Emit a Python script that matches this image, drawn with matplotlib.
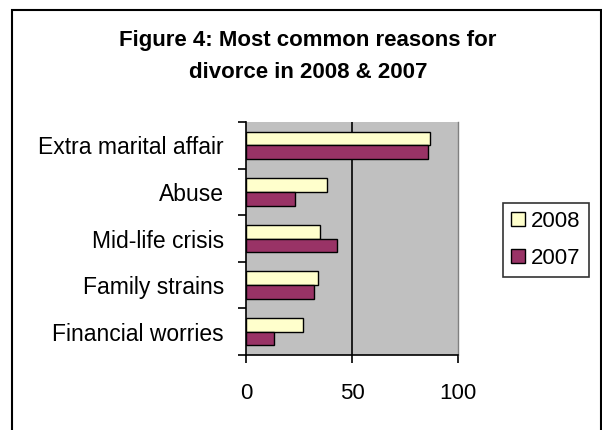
import matplotlib
matplotlib.use("Agg")
import matplotlib.pyplot as plt
from matplotlib.patches import Rectangle
import numpy as np

categories = ["Extra marital affair", "Abuse", "Mid-life crisis", "Family strains", "Financial worries"]
values_2008 = [87, 38, 35, 34, 27]
values_2007 = [86, 23, 43, 32, 13]
series_labels = ["2008", "2007"]
x_ticks = [0, 50, 100]
title = "Figure 4: Most common reasons for\ndivorce in 2008 & 2007"

plt.rcParams['font.family'] = ['Liberation Sans', 'DejaVu Sans']

fig = plt.figure(figsize=(6.02, 4.30), dpi=100)
ax = fig.add_axes([246/602, 1-355/430, 212/602, 233/430])
ax.set_facecolor("#C0C0C0")

n = len(categories)
y = np.arange(n)[::-1].astype(float)
h = 0.293
ax.barh(y + h/2, values_2008, height=h, color="#FFFFCC", edgecolor="black", linewidth=1.0, label=series_labels[0], zorder=3)
ax.barh(y - h/2, values_2007, height=h, color="#993366", edgecolor="black", linewidth=1.0, label=series_labels[1], zorder=3)

ax.set_xlim(0, 100)
ax.set_ylim(-0.5, n - 0.5)
ax.set_xticks(x_ticks)
ax.set_xticklabels([str(t) for t in x_ticks], fontsize=16)
ax.axvline(50, color="black", linewidth=1.2, zorder=2)

ax.set_yticks(y)
ax.set_yticklabels(categories, fontsize=16.5)
ax.tick_params(axis='y', which='major', length=0, pad=16)
ax.set_yticks(np.arange(-0.5, n, 1.0), minor=True)
ax.tick_params(axis='y', which='minor', length=6, width=1.2, direction='out')
ax.tick_params(axis='x', which='major', length=6, width=1.2, direction='out', pad=14)

ax.spines['top'].set_visible(False)
ax.spines['right'].set_color("#808080")
ax.spines['right'].set_linewidth(1.0)
ax.spines['left'].set_linewidth(1.2)
ax.spines['bottom'].set_linewidth(1.2)

fig.text(308/602, 1-56.5/430, title, ha='center', va='center', fontsize=16, fontweight='bold', linespacing=1.7)

leg = fig.legend(loc='center', bbox_to_anchor=(546/602, 1-240/430), frameon=True, fontsize=16,
                 handlelength=0.6, handleheight=0.6, handletextpad=0.3, borderpad=0.35, labelspacing=0.7,
                 fancybox=False, edgecolor='black')
leg.get_frame().set_linewidth(1.2)

fig.patches.append(Rectangle((12/602, -0.05), 589/602, 1.05 - 10/430, transform=fig.transFigure,
                             fill=False, edgecolor='black', linewidth=1.5))

fig.savefig("out.png", dpi=100)
